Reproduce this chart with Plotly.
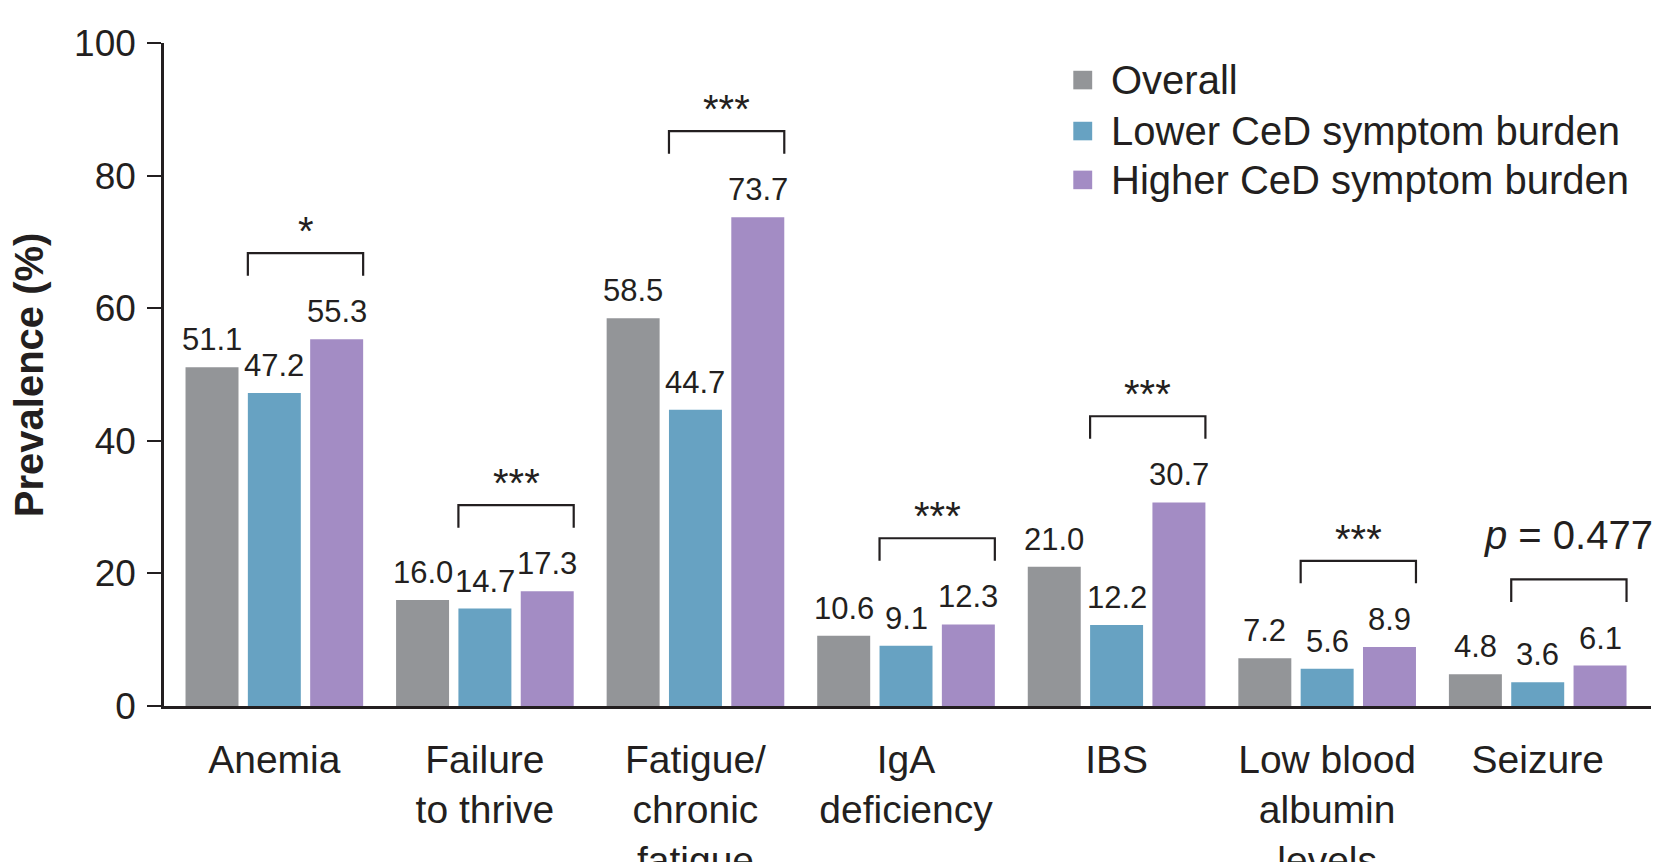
import plotly.graph_objects as go

# ---------------- data ----------------
categories = ["Anemia", "Failure<br>to thrive", "Fatigue/<br>chronic<br>fatigue",
              "IgA<br>deficiency", "IBS", "Low blood<br>albumin<br>levels", "Seizure"]
overall = [51.1, 16.0, 58.5, 10.6, 21.0, 7.2, 4.8]
lower = [47.2, 14.7, 44.7, 9.1, 12.2, 5.6, 3.6]
higher = [55.3, 17.3, 73.7, 12.3, 30.7, 8.9, 6.1]
significance = ["*", "***", "***", "***", "***", "***", "<i>p</i> = 0.477"]
series_names = ["Overall", "Lower CeD symptom burden", "Higher CeD symptom burden"]
y_ticks = [0, 20, 40, 60, 80, 100]

# ---------------- style ----------------
colors = ["#939598", "#67a2c2", "#a38cc4"]
TEXT = "#231f20"
FONT = "Liberation Sans, Arial, Helvetica, sans-serif"
BARGAP = 0.112
BARGROUPGAP = 0.15
slot = (1 - BARGAP) / 3
offsets = [-slot, 0.0, slot]
half_bar = slot * (1 - BARGROUPGAP) / 2
BRACKET_ABOVE = 13.0
LEG = 3.4

positions = list(range(len(categories)))
series = [overall, lower, higher]

fig = go.Figure()
for name, vals, col in zip(series_names, series, colors):
    fig.add_trace(go.Bar(x=positions, y=vals, name=name, marker_color=col,
                         marker_line_width=0, showlegend=False))

annotations = []
shapes = []
# value labels
for k, vals in enumerate(series):
    for i, v in enumerate(vals):
        annotations.append(dict(x=i + offsets[k], y=v, xref="x", yref="y",
                                text=f"{v:.1f}", showarrow=False, yanchor="bottom",
                                yshift=8, font=dict(size=31, color=TEXT, family=FONT)))
# brackets and significance
for i, sig in enumerate(significance):
    top = max(overall[i], lower[i], higher[i]) + BRACKET_ABOVE
    x0 = i + offsets[1] - half_bar
    x1 = i + offsets[2] + half_bar
    shapes.append(dict(type="path", xref="x", yref="y",
                       path=f"M {x0},{top - LEG} L {x0},{top} L {x1},{top} L {x1},{top - LEG}",
                       line=dict(color=TEXT, width=2.2)))
    is_p = sig.startswith("<i>")
    annotations.append(dict(x=(x0 + x1) / 2, y=top, xref="x", yref="y", text=sig,
                            showarrow=False, yanchor="bottom",
                            yshift=20 if is_p else -2,
                            font=dict(size=40, color=TEXT, family=FONT)))
# y title
annotations.append(dict(x=-0.091, y=0.5, xref="paper", yref="paper",
                        text="<b>Prevalence (%)</b>", textangle=-90, showarrow=False,
                        xanchor="center", yanchor="middle",
                        font=dict(size=40, color=TEXT, family=FONT)))

# legend (square swatches + labels)
legend_rows_y = [0.9441, 0.8672, 0.7935]
SQ_X0, SQ_X1, SQ_HALF = 0.6115, 0.6242, 0.0140
for name, col, yc in zip(series_names, colors, legend_rows_y):
    shapes.append(dict(type="rect", xref="paper", yref="paper",
                       x0=SQ_X0, x1=SQ_X1, y0=yc - SQ_HALF, y1=yc + SQ_HALF,
                       fillcolor=col, line=dict(width=0)))
    annotations.append(dict(x=0.6358, y=yc, xref="paper", yref="paper", text=name,
                            showarrow=False, xanchor="left", yanchor="middle",
                            font=dict(size=40, color=TEXT, family=FONT)))

fig.update_layout(
    width=1665, height=862,
    margin=dict(l=156, r=22, t=35, b=164, pad=0),
    paper_bgcolor="white", plot_bgcolor="white",
    barmode="group", bargap=BARGAP, bargroupgap=BARGROUPGAP,
    font=dict(family=FONT, color=TEXT),
    annotations=annotations, shapes=shapes,
    showlegend=False,
    xaxis=dict(range=[-0.524, 6.538], tickvals=positions, ticktext=categories,
               showline=True, linecolor=TEXT, linewidth=2.5, ticks="",
               showgrid=False, zeroline=False, automargin=False,
               ticklabelstandoff=17,
               tickfont=dict(size=39, color=TEXT, family=FONT)),
    yaxis=dict(range=[0, 100], tickvals=y_ticks, showline=True, linecolor=TEXT,
               linewidth=2.5, ticks="outside", ticklen=14, tickwidth=2.2,
               tickcolor=TEXT, showgrid=False, zeroline=False, automargin=False,
               ticklabelstandoff=4,
               tickfont=dict(size=37, color=TEXT, family=FONT)),
)

fig.write_html("out.html")
